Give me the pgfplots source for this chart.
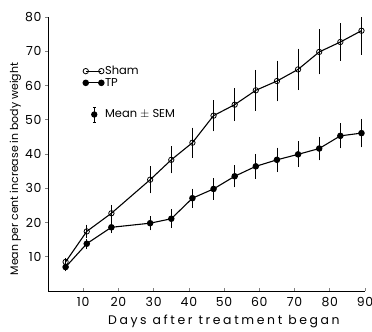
\documentclass[border=0pt]{standalone}
\usepackage{pgfplots}
\pgfplotsset{compat=1.18}
\usepackage{pgfplotstable}
\usepackage{fontspec}
\setmainfont{Poppins}
\newfontfamily\xlab[LetterSpace=21]{Poppins}
\newfontfamily\ticks[LetterSpace=6]{Poppins}
\pgfplotstableread{
d v e
5 8.5 0.7
11 17.4 1.5
18 22.7 2.0
29 32.5 3.5
35 38.3 3.5
41 43.3 3.9
47 51.2 4.1
53 54.4 4.3
59 58.6 5.5
65 61.3 5.5
71 64.7 5.6
77 69.8 6.1
83 72.7 5.0
89 76.0 6.6
}\sham
\pgfplotstableread{
d v e
5 7.0 0.8
11 13.8 1.0
18 18.6 1.2
29 19.8 1.6
35 21.1 2.3
41 27.1 2.3
47 29.8 2.7
53 33.5 2.8
59 36.4 3.2
65 38.3 3.1
71 39.9 3.3
77 41.6 3.0
83 45.3 3.2
89 46.1 3.7
}\tp
\begin{document}
\begin{tikzpicture}
\begin{axis}[
  scale only axis,
  width=317bp, height=274bp,
  xmin=0, xmax=90, ymin=0, ymax=80,
  axis x line*=bottom, axis y line*=left,
  axis line style={line width=0.9pt, -},
  xtick={10,20,...,90}, ytick={10,20,...,80},
  xtick align=inside, ytick align=outside,
  major tick style={line width=0.7pt},
  major tick length=3pt,
  tick label style={font=\ticks\fontsize{12.5}{14}\selectfont},
  xticklabel style={yshift=-3pt},
  /pgf/number format/assume math mode=true,
  xlabel={\xlab Days after treatment began},
  ylabel={Mean per cent increase in body weight},
  xlabel style={font=\fontsize{12.5}{14}\selectfont, at={(ticklabel cs:0.555)}},
  xlabel shift=1.5pt,
  ylabel style={font=\fontsize{11}{13}\selectfont, at={(ticklabel cs:0.445)}},
  ylabel shift=-3pt,
  legend style={draw=none, fill=none, at={(0.11,0.825)}, anchor=north west,
    font=\fontsize{11.5}{13}\selectfont, row sep=0pt, inner sep=0pt,
    nodes={inner sep=1pt}},
  legend cell align=left,
  legend image code/.code={\draw[#1] plot coordinates {(0cm,0cm) (0.55cm,0cm)};},
  every axis plot/.append style={line width=1.1pt, black},
  error bars/error bar style={line width=0.7pt},
  error bars/error mark options={mark size=1.6pt, line width=0.7pt},
]
\addplot[mark=o, mark size=2.7pt, mark options={fill=white, line width=0.8pt},
  error bars/.cd, y dir=both, y explicit]
  table[x=d, y=v, y error=e] {\sham};
\addlegendentry{Sham}
\addplot[mark=*, mark size=2.7pt,
  error bars/.cd, y dir=both, y explicit]
  table[x=d, y=v, y error=e] {\tp};
\addlegendentry{TP}
\addlegendimage{legend image code/.code={
  \draw[line width=0.7pt] (0.3cm,-0.98cm) -- (0.3cm,-0.44cm);
  \draw[line width=0.7pt] (0.25cm,-0.98cm) -- (0.35cm,-0.98cm);
  \draw[line width=0.7pt] (0.25cm,-0.44cm) -- (0.35cm,-0.44cm);
  \fill (0.3cm,-0.71cm) circle (2.6pt);}}
\addlegendentry{\raisebox{-0.71cm}[\height][\depth]{Mean $\pm$ SEM}}
\end{axis}
\pgfresetboundingbox
\path ([xshift=-48bp,yshift=-40bp]current axis.south west) rectangle ([xshift=7bp,yshift=17bp]current axis.north east);
\end{tikzpicture}
\end{document}
